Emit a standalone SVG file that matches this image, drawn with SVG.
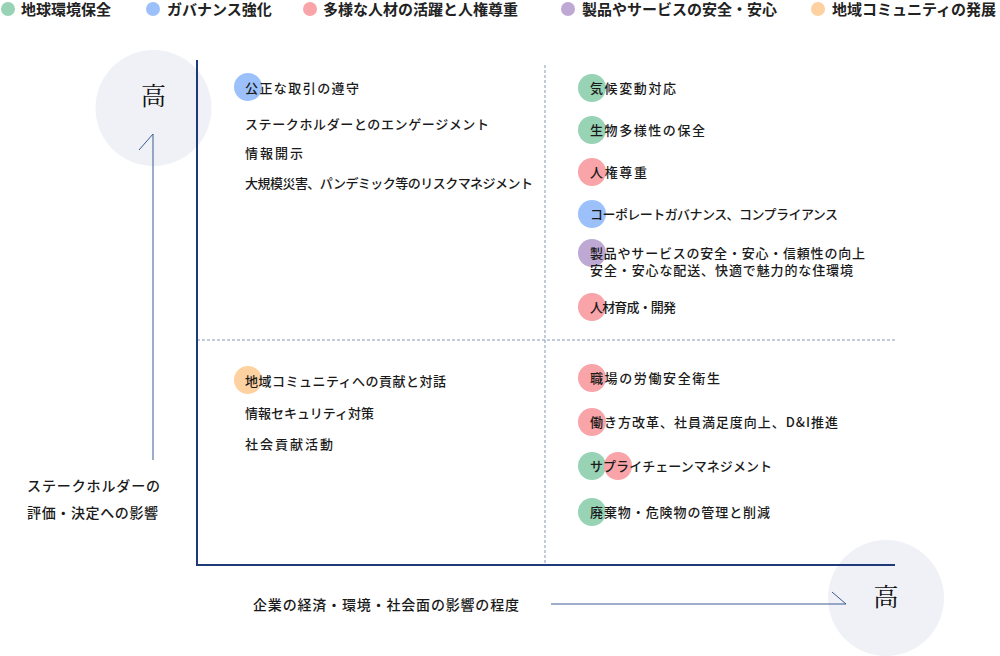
<svg xmlns="http://www.w3.org/2000/svg" width="1000" height="656" viewBox="0 0 1000 656">
<style>
.t{font-family:"Noto Sans CJK JP","Noto Sans",sans-serif;font-size:13px;fill:#1a1a1a;font-weight:500}
.a{font-family:"Noto Sans CJK JP","Noto Sans",sans-serif;font-size:14px;fill:#1a1a1a;font-weight:500}
.lg{font-family:"Noto Sans CJK JP","Noto Sans",sans-serif;font-size:15px;fill:#222;font-weight:700}
.hi{font-family:"Noto Serif CJK JP","Noto Sans CJK JP",serif;font-size:25px;fill:#111}
.g{fill:#97d3b4}.b{fill:#9cc1fa}.p{fill:#f8a4a8}.v{fill:#bea8d4}.o{fill:#fdd1a0}
.axis{stroke:#1e3a78;stroke-width:2;fill:none}
.dash{stroke:#8797b5;stroke-width:1;stroke-dasharray:3 2;fill:none}
.arr{stroke:#3a5a94;stroke-width:1;fill:none}
</style>
<rect width="1000" height="656" fill="#fff"/>
<g id="legend">
<circle class="g" cx="8" cy="9" r="7"/><text class="lg" x="21" y="15">地球環境保全</text>
<circle class="b" cx="153" cy="9" r="7"/><text class="lg" x="167" y="15">ガバナンス強化</text>
<circle class="p" cx="310" cy="9" r="7"/><text class="lg" x="323" y="15">多様な人材の活躍と人権尊重</text>
<circle class="v" cx="568" cy="9" r="7"/><text class="lg" x="582" y="15">製品やサービスの安全・安心</text>
<circle class="o" cx="818" cy="9" r="7"/><text class="lg" x="832" y="15">地域コミュニティの発展</text>
</g>
<g id="bg-circles">
<circle cx="153.5" cy="108" r="58" fill="#eff1f6"/>
<circle cx="886" cy="598" r="58" fill="#eff1f6"/>
</g>
<g id="connectors">
<line class="dash" x1="545" y1="65" x2="545" y2="565"/>
<line class="dash" x1="197" y1="340" x2="895" y2="340"/>
<line class="axis" x1="197" y1="60" x2="197" y2="565"/>
<line class="axis" x1="196" y1="565" x2="895" y2="565"/>
<polyline class="arr" points="139,150 153,134 153,460"/>
<polyline class="arr" points="551,604 846,604 832,592"/>
</g>
<g id="labels">
<text class="hi" x="153.5" y="105" text-anchor="middle">高</text>
<text class="hi" x="886" y="606" text-anchor="middle">高</text>
<text class="a" x="27" y="491" textLength="133" lengthAdjust="spacing">ステークホルダーの</text>
<text class="a" x="27" y="518" textLength="131" lengthAdjust="spacing">評価・決定への影響</text>
<text class="a" x="253" y="610" textLength="266" lengthAdjust="spacing">企業の経済・環境・社会面の影響の程度</text>
</g>
<g id="q-top-left">
<circle class="b" cx="248" cy="87" r="14"/>
<text class="t" x="245" y="93" textLength="114" lengthAdjust="spacing">公正な取引の遵守</text>
<text class="t" x="245" y="129" textLength="244" lengthAdjust="spacing">ステークホルダーとのエンゲージメント</text>
<text class="t" x="245" y="158" textLength="58" lengthAdjust="spacing">情報開示</text>
<text class="t" x="245" y="188" textLength="288" lengthAdjust="spacing">大規模災害、パンデミック等のリスクマネジメント</text>
</g>
<g id="q-top-right">
<circle class="g" cx="592" cy="88" r="14"/><text class="t" x="590" y="93" textLength="86" lengthAdjust="spacing">気候変動対応</text>
<circle class="g" cx="592" cy="130" r="14"/><text class="t" x="590" y="135" textLength="115" lengthAdjust="spacing">生物多様性の保全</text>
<circle class="p" cx="592" cy="172" r="14"/><text class="t" x="590" y="177" textLength="57" lengthAdjust="spacing">人権尊重</text>
<circle class="b" cx="592" cy="214" r="14"/><text class="t" x="590" y="219" textLength="248" lengthAdjust="spacing">コーポレートガバナンス、コンプライアンス</text>
<circle class="v" cx="592" cy="253" r="14"/><text class="t" x="590" y="258" textLength="275" lengthAdjust="spacing">製品やサービスの安全・安心・信頼性の向上</text>
<text class="t" x="590" y="275" textLength="263" lengthAdjust="spacing">安全・安心な配送、快適で魅力的な住環境</text>
<circle class="p" cx="592" cy="307" r="14"/><text class="t" x="590" y="312" textLength="86" lengthAdjust="spacing">人材育成・開発</text>
</g>
<g id="q-bottom-left">
<circle class="o" cx="248" cy="380" r="14"/>
<text class="t" x="245" y="386" textLength="201" lengthAdjust="spacing">地域コミュニティへの貢献と対話</text>
<text class="t" x="245" y="418" textLength="129" lengthAdjust="spacing">情報セキュリティ対策</text>
<text class="t" x="245" y="449" textLength="88" lengthAdjust="spacing">社会貢献活動</text>
</g>
<g id="q-bottom-right">
<circle class="p" cx="592" cy="378" r="14"/><text class="t" x="590" y="383" textLength="130" lengthAdjust="spacing">職場の労働安全衛生</text>
<circle class="p" cx="592" cy="422" r="14"/><text class="t" x="590" y="427" textLength="248" lengthAdjust="spacing">働き方改革、社員満足度向上、D&amp;I推進</text>
<circle class="g" cx="592" cy="466" r="14"/><circle class="p" cx="618" cy="466" r="14"/><text class="t" x="590" y="471" textLength="182" lengthAdjust="spacing">サプライチェーンマネジメント</text>
<circle class="g" cx="592" cy="512" r="14"/><text class="t" x="590" y="517" textLength="180" lengthAdjust="spacing">廃棄物・危険物の管理と削減</text>
</g>
</svg>
